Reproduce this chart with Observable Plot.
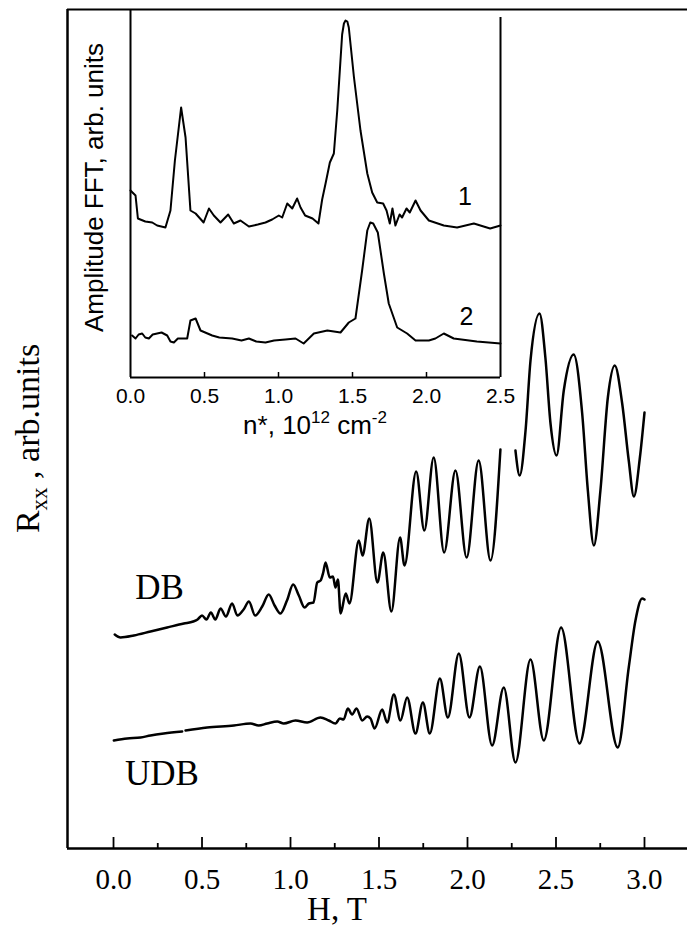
<!DOCTYPE html>
<html><head><meta charset="utf-8">
<script src="https://cdn.jsdelivr.net/npm/d3@7"></script>
<script src="https://cdn.jsdelivr.net/npm/@observablehq/plot@0.6"></script>
<style>
html,body{margin:0;padding:0;background:#fff;}
#wrap{position:relative;width:687px;height:927px;overflow:hidden;background:#fff;}
#wrap svg{position:absolute;left:0;top:0;max-width:none;}
</style></head><body><div id="wrap"></div>
<script>
// ---- Main chart: H (T) vs Rxx (arb. units) ----
const dbH = [0.007,0.04,0.115,0.209,0.303,0.397,0.45,0.475,0.50,0.525,0.55,0.575,0.605,0.635,0.67,0.70,0.735,0.765,0.80,0.84,0.877,0.91,0.943,0.98,1.015,1.047,1.079,1.104,1.13,1.151,1.17,1.185,1.198,1.222,1.24,1.254,1.268,1.283,1.312,1.333,1.386,1.407,1.445,1.491,1.524,1.57,1.619,1.644,1.71,1.756,1.809,1.868,1.932,1.995,2.063,2.13,2.186,2.23,2.271,2.295,2.328,2.356,2.407,2.44,2.469,2.503,2.544,2.6,2.648,2.68,2.714,2.751,2.793,2.832,2.874,2.911,2.94,2.974,3.0];
const dbR = [21.4,21.1,21.3,21.7,22.1,22.5,22.7,22.9,23.3,22.9,23.6,22.9,24.0,23.2,24.5,23.3,23.9,24.7,23.3,24.2,25.4,24.3,23.5,24.8,26.4,25.3,24.1,24.5,24.6,26.6,26.8,27.6,28.6,27.1,27.2,26.1,26.9,23.5,25.5,24.5,30.8,29.3,33.0,26.6,29.6,23.7,31.1,28.3,37.7,31.8,39.1,29.6,37.8,29.1,38.8,28.8,39.9,null,39.8,37.3,41.8,48.8,53.5,49.1,42.5,39.3,45.8,49.4,43.5,35.8,30.3,35.8,45.1,48.3,44.5,38.8,35.2,39.1,43.6];
const udbH = [0.002,0.077,0.153,0.209,0.284,0.388,0.397,0.407,0.529,0.68,0.774,0.82,0.868,0.925,0.962,1.028,1.094,1.169,1.216,1.254,1.279,1.30,1.324,1.348,1.373,1.405,1.433,1.452,1.475,1.518,1.546,1.584,1.621,1.659,1.706,1.748,1.787,1.844,1.889,1.951,2.011,2.07,2.139,2.205,2.271,2.356,2.431,2.529,2.633,2.736,2.849,2.911,2.949,2.987,3.0];
const udbR = [10.8,11.0,11.1,11.3,11.5,11.7,null,11.8,12.1,12.3,12.5,12.3,12.5,12.7,12.5,12.8,12.6,13.1,12.8,12.5,13.0,12.9,14.0,13.4,14.0,12.8,13.2,13.0,12.0,13.9,12.6,15.4,12.8,15.1,11.5,14.6,11.5,17.0,13.1,19.5,13.1,18.2,10.3,16.1,8.6,18.9,10.8,22.1,10.5,20.7,10.1,18.1,22.8,25.0,24.9];
const mainMajorTicks = [0.0,0.5,1.0,1.5,2.0,2.5,3.0];
const mainMinorTicks = [0.25,0.75,1.25,1.75,2.25,2.75];
const curveLabels = [{H:0.26,R:26.1,t:"DB"},{H:0.274,R:7.45,t:"UDB"}];

// ---- Inset: FFT amplitude vs n* (10^12 cm^-2) ----
const ins1N = [0,0.034,0.05,0.10,0.147,0.18,0.236,0.27,0.30,0.342,0.372,0.405,0.44,0.494,0.53,0.563,0.608,0.66,0.698,0.743,0.80,0.86,0.912,0.957,1.002,1.025,1.059,1.093,1.126,1.149,1.18,1.23,1.27,1.295,1.318,1.347,1.374,1.397,1.43,1.442,1.453,1.465,1.475,1.51,1.554,1.60,1.633,1.667,1.707,1.73,1.752,1.77,1.79,1.818,1.835,1.865,1.887,1.926,1.96,2.016,2.117,2.207,2.32,2.43,2.5];
const ins1A = [18.7,18.2,15.9,15.6,15.5,15.2,15.0,16.7,21.7,27.0,24.0,16.7,16.4,15.5,16.9,16.2,15.5,16.3,15.4,15.7,15.1,15.3,15.5,15.8,16.2,16.0,17.4,16.9,17.9,17.0,16.2,15.9,15.4,17.8,19.4,21.5,22.4,26.7,34.3,35.4,35.7,35.6,35.0,30.0,24.7,20.4,18.5,17.5,17.4,16.7,15.4,16.9,15.2,16.3,16.0,16.9,16.5,17.7,16.7,15.7,15.2,15.0,15.4,14.9,15.2];
const ins2N = [0.011,0.034,0.055,0.079,0.1,0.124,0.15,0.18,0.21,0.248,0.27,0.293,0.32,0.349,0.383,0.405,0.44,0.473,0.552,0.6,0.687,0.75,0.8,0.85,0.912,0.97,1.047,1.115,1.17,1.239,1.33,1.419,1.475,1.52,1.565,1.60,1.62,1.64,1.671,1.712,1.745,1.802,1.869,1.926,2.016,2.06,2.117,2.184,2.34,2.5];
const ins2A = [4.2,3.9,4.3,4.4,4.0,3.9,4.3,4.4,4.5,4.2,3.6,3.5,3.9,3.9,3.9,5.7,5.9,4.7,4.2,4.0,3.9,3.7,3.9,3.6,3.5,3.7,3.8,3.9,3.4,4.4,4.7,4.5,5.5,5.9,10.7,14.7,15.5,15.4,14.5,10.4,7.4,5.0,4.4,3.7,3.7,3.9,4.4,3.9,3.6,3.4];
const insetTicks = [0.0,0.5,1.0,1.5,2.0,2.5];
const insetCurveLabels = [{n:2.26,a:18.1,t:"1"},{n:2.27,a:6.1,t:"2"}];

const db = dbH.map((h,i)=>({H:h,R:dbR[i]}));
const udb = udbH.map((h,i)=>({H:h,R:udbR[i]}));
const ins1 = ins1N.map((n,i)=>({n,a:ins1A[i]}));
const ins2 = ins2N.map((n,i)=>({n,a:ins2A[i]}));

const serif = "'Liberation Serif','Times New Roman',serif";
const sans = "'Liberation Sans',Arial,sans-serif";
const xL = -0.26, xR = 3.243, yTop = 83.9;

const main = Plot.plot({
  width: 687, height: 927,
  marginLeft: 67, marginRight: 0, marginTop: 9, marginBottom: 79,
  x: {domain: [xL, xR], axis: null},
  y: {domain: [0, yTop], axis: null},
  style: {background: "white", fontFamily: serif, color: "black"},
  marks: [
    Plot.ruleY([0], {stroke: "black", strokeWidth: 2.5}),
    Plot.ruleY([yTop], {stroke: "black", strokeWidth: 2}),
    Plot.ruleX([xL], {stroke: "black", strokeWidth: 2.5}),
    Plot.ruleX(mainMajorTicks, {x: d=>d, y1: 0, y2: 1.1, stroke: "black", strokeWidth: 1.8}),
    Plot.ruleX(mainMinorTicks, {x: d=>d, y1: 0, y2: 0.5, stroke: "black", strokeWidth: 1.8}),
    Plot.text(mainMajorTicks, {x: d=>d, y: ()=>0, dy: 31, text: d=>d.toFixed(1), fontSize: 29, lineAnchor: "middle", fill: "black"}),
    Plot.text([{H:1.263,R:0,t:"H, T"}], {x:"H", y:"R", text:"t", dy: 61, fontSize: 33, lineAnchor: "middle", fill: "black"}),
    Plot.text([{H:xL,R:41,t:"Rxx , arb.units"}], {x:"H", y:"R", text:"t", dx: -39, rotate: -90, fontSize: 34, lineAnchor: "middle", fill: "black"}),
    Plot.line(db, {x:"H", y:"R", curve: "monotone-x", stroke: "black", strokeWidth: 2.5}),
    Plot.line(udb, {x:"H", y:"R", curve: "monotone-x", stroke: "black", strokeWidth: 2.5}),
    Plot.text(curveLabels, {x:"H", y:"R", text:"t", fontSize: 35, lineAnchor: "middle", fill: "black"})
  ]
});

const inset = Plot.plot({
  width: 687, height: 927,
  marginLeft: 130, marginRight: 187, marginTop: 10, marginBottom: 550,
  x: {domain: [0, 2.5], axis: null},
  y: {domain: [0, 36.7], axis: null},
  style: {background: "transparent", fontFamily: sans, color: "black"},
  marks: [
    Plot.ruleY([0], {stroke: "black", strokeWidth: 2}),
    Plot.ruleX([0], {y1: 0, y2: 36.7, stroke: "black", strokeWidth: 2}),
    Plot.ruleX([2.5], {y1: 0, y2: 36.0, stroke: "black", strokeWidth: 2}),
    Plot.ruleX(insetTicks.slice(1,-1), {x: d=>d, y1: 0, y2: 0.5, stroke: "black", strokeWidth: 1.5}),
    Plot.text(insetTicks, {x: d=>d, y: ()=>0, dy: 19, text: d=>d.toFixed(1), fontSize: 21, lineAnchor: "middle", fill: "black"}),
    Plot.text([{n:1.247,a:0,t:"n*, 1012 cm-2"}], {x:"n", y:"a", text:"t", dy: 48, fontSize: 26, lineAnchor: "middle", fill: "black"}),
    Plot.text([{n:0,a:19,t:"Amplitude FFT, arb. units"}], {x:"n", y:"a", text:"t", dx: -36, rotate: -90, fontSize: 26, lineAnchor: "middle", fill: "black"}),
    Plot.line(ins1, {x:"n", y:"a", stroke: "black", strokeWidth: 2, strokeLinejoin: "round"}),
    Plot.line(ins2, {x:"n", y:"a", stroke: "black", strokeWidth: 2, strokeLinejoin: "round"}),
    Plot.text(insetCurveLabels, {x:"n", y:"a", text:"t", fontSize: 25, lineAnchor: "middle", fill: "black"})
  ]
});

function richify(svg, plain, parts) {
  d3.select(svg).selectAll("text").filter(function(){ return this.textContent === plain; }).each(function(){
    const t = d3.select(this);
    t.selectAll("*").remove();
    t.text(null);
    parts.forEach(p => {
      const s = t.append("tspan").text(p.t);
      if (p.size) s.attr("font-size", p.size);
      if (p.dy) s.attr("dy", p.dy);
    });
  });
}
richify(main, "Rxx , arb.units", [{t:"R"},{t:"xx",size:23,dy:8},{t:" , arb.units",dy:-8}]);
richify(inset, "n*, 1012 cm-2", [{t:"n*, 10"},{t:"12",size:17,dy:-11},{t:" cm",dy:11},{t:"-2",size:17,dy:-11}]);

const wrap = document.getElementById("wrap");
wrap.appendChild(main);
wrap.appendChild(inset);
</script>
</body></html>
